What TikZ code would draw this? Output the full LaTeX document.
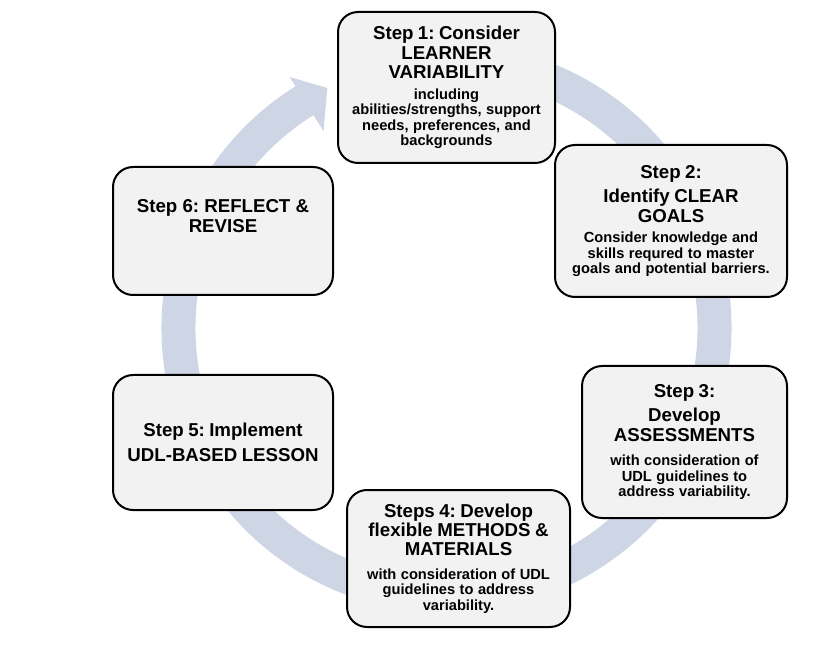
\documentclass[tikz,border=0pt]{standalone}
\usepackage{fontspec}
\setmainfont{Liberation Sans}
\usepackage{tikz}
\usetikzlibrary{%
  calc,%
  positioning%
}
\frenchspacing
\definecolor{ringblue}{RGB}{206,214,230}
\definecolor{boxgray}{RGB}{242,242,242}
\newcommand{\stepfont}{\fontsize{14}{14.5}\selectfont}
\newcommand{\notefont}{\fontsize{11}{11.6}\selectfont}
\tikzset{>=latex,
  stepbox/.style={draw=black,line width=1.5pt,rounded corners=15pt,
    fill=boxgray,align=center,inner sep=3pt,font=\bfseries}
}

\begin{document}
\begin{tikzpicture}[x=0.75pt,y=-0.75pt]
        \useasboundingbox (0,0) rectangle (838,655);
        \coordinate (hub) at (446.5,328);
        \fill[ringblue] ($(hub)+(-80:285)$) arc[start angle=-80,
        end angle=238,radius=285] -- ($(hub)+(238:296)$) --
        ($(hub)+(243.6:268)$) -- ($(hub)+(238:232)$) --
        ($(hub)+(238:251)$) arc[start angle=238,end angle=-80,
        radius=251] -- cycle;
        \node[stepbox,minimum width=162.75pt,minimum height=113.25pt,
        text width=152pt] (box1) at (446.5,87.5)
        {{\stepfont Step 1: Consider\\ LEARNER\\ VARIABILITY\par}
          \vspace{4pt}{\notefont including\\ abilities/strengths, support\\
            needs, preferences, and\\ backgrounds\par}};
        \node[stepbox,minimum width=174pt,minimum height=114pt,
        text width=164pt] (box2) at (671,221)
        {{\stepfont Step 2:\\[4pt] Identify CLEAR\\ GOALS\par}
          \vspace{4pt}{\notefont Consider knowledge and\\ skills requred to
            master\\ goals and potential barriers.\par}};
        \node[stepbox,minimum width=153.75pt,minimum height=114pt,
        text width=144pt] (box3) at (684.5,442)
        {{\stepfont Step 3:\\[4pt] Develop\\ ASSESSMENTS\par}
          \vspace{7pt}{\notefont with consideration of\\ UDL guidelines to\\
            address variability.\par}};
        \node[stepbox,minimum width=167.25pt,minimum height=102.75pt,
        text width=157pt] (box4) at (458.5,558.5)
        {{\stepfont Steps 4: Develop\\ flexible METHODS \&\\ MATERIALS\par}
          \vspace{6pt}{\notefont with consideration of UDL\\ guidelines to
            address\\ variability.\par}};
        \node[stepbox,minimum width=165pt,minimum height=101.25pt,
        text width=155pt] (box5) at (223,442.5)
        {{\stepfont Step 5: Implement\\[4pt] UDL-BASED LESSON\par}};
        \node[stepbox,minimum width=165pt,minimum height=96pt] (box6)
        at (223,231) {};
        \node[align=center,font=\bfseries\stepfont] (label6) at (223,216)
        {Step 6: REFLECT \&\\ REVISE};
      \end{tikzpicture}
\end{document}
